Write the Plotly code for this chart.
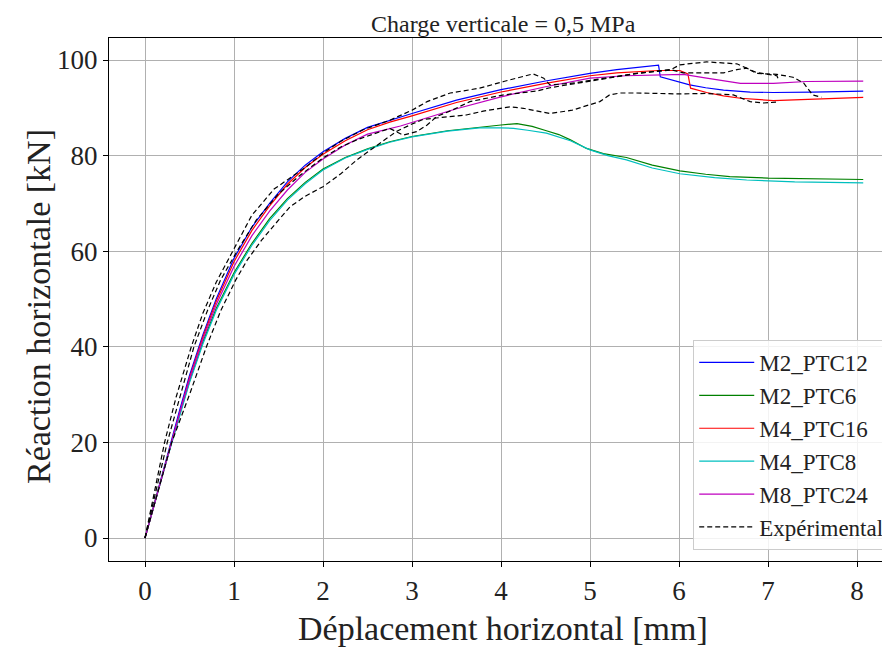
import plotly.graph_objects as go

# ---------------- data ----------------
blue_x = [0, 0.1, 0.25, 0.4, 0.5, 0.65, 0.8, 1.0, 1.2, 1.4, 1.6, 1.8, 2.0, 2.25, 2.5, 2.75, 3.0, 3.5, 4.0, 4.5, 5.0, 5.3, 5.77, 5.79, 5.94, 6.12, 6.3, 6.5, 6.8, 7.06, 7.5, 8.07]
blue_y = [0, 7, 17.5, 27.5, 34, 42.5, 50, 58.5, 65, 70, 74.5, 78, 80.8, 83.6, 85.9, 87.4, 88.8, 91.6, 93.8, 95.6, 97.2, 98.0, 98.9, 96.5, 95.8, 94.8, 94.2, 93.7, 93.3, 93.2, 93.3, 93.5]

green_x = [0, 0.1, 0.25, 0.4, 0.5, 0.65, 0.8, 1.0, 1.2, 1.4, 1.6, 1.8, 2.0, 2.25, 2.5, 2.75, 3.0, 3.4, 3.76, 4.0, 4.18, 4.35, 4.51, 4.65, 4.78, 4.96, 5.15, 5.41, 5.7, 6.01, 6.3, 6.57, 7.0, 7.5, 8.07]
green_y = [0, 6.8, 16.8, 26.5, 32.8, 41, 48, 55.5, 61.6, 66.8, 71, 74.4, 77.2, 79.6, 81.4, 82.9, 84.0, 85.2, 86.0, 86.4, 86.7, 86.1, 85.2, 84.4, 83.3, 81.5, 80.4, 79.6, 78.0, 76.8, 76.1, 75.6, 75.3, 75.1, 75.0]

red_x = [0, 0.1, 0.25, 0.4, 0.5, 0.65, 0.8, 1.0, 1.2, 1.4, 1.6, 1.8, 2.0, 2.25, 2.5, 2.75, 3.0, 3.5, 4.0, 4.5, 5.0, 5.3, 5.77, 6.01, 6.1, 6.13, 6.31, 6.5, 6.69, 7.06, 7.5, 8.07]
red_y = [0, 6.8, 17, 27, 33.5, 42, 49.5, 57.8, 64.3, 69.5, 74, 77.5, 80.3, 83.1, 85.4, 87, 88.3, 91.1, 93.3, 95.1, 96.7, 97.3, 97.8, 97.8, 97.1, 94.1, 93.2, 92.5, 92.0, 91.5, 91.8, 92.2]

cyan_x = [0, 0.1, 0.25, 0.4, 0.5, 0.65, 0.8, 1.0, 1.2, 1.4, 1.6, 1.8, 2.0, 2.25, 2.5, 2.75, 3.0, 3.4, 3.76, 4.0, 4.14, 4.3, 4.51, 4.78, 5.0, 5.2, 5.41, 5.7, 6.01, 6.4, 6.76, 7.3, 8.07]
cyan_y = [0, 6.7, 16.6, 26.2, 32.5, 40.6, 47.6, 55.1, 61.2, 66.4, 70.7, 74.1, 77.0, 79.5, 81.3, 82.8, 83.9, 85.1, 85.8, 85.8, 85.7, 85.3, 84.7, 83.1, 81.2, 80.0, 79.1, 77.4, 76.2, 75.4, 74.9, 74.5, 74.3]

magenta_x = [0, 0.1, 0.25, 0.4, 0.5, 0.65, 0.8, 1.0, 1.2, 1.4, 1.6, 1.8, 2.0, 2.25, 2.5, 2.87, 3.5, 4.0, 4.5, 5.0, 5.4, 5.79, 6.05, 6.31, 6.69, 7.06, 7.43, 8.07]
magenta_y = [0, 6.8, 17, 26.8, 33.2, 41.5, 48.8, 56.8, 63.2, 68.4, 72.8, 76.5, 79.3, 82.2, 84.5, 86.2, 89.8, 92.3, 94.4, 96.2, 96.7, 96.9, 97.0, 96.2, 95.1, 95.1, 95.5, 95.6]

expA_x = [0, 0.1, 0.22, 0.35, 0.52, 0.65, 0.8, 1.0, 1.2, 1.45, 1.6, 1.8, 2.0, 2.2, 2.45, 2.75, 3.0, 3.17, 3.43, 3.76, 4.03, 4.2, 4.36, 4.48, 4.55, 4.78, 5.15, 5.52, 5.9, 6.01, 6.31, 6.65, 6.76, 6.87, 7.1, 7.28, 7.4, 7.5, 7.6]
expA_y = [0, 9, 20, 29.5, 40, 47, 53.5, 60.5, 67.5, 73, 75, 77.5, 80.5, 83, 85.4, 87.4, 89.5, 91.3, 93.1, 94.1, 95.5, 96.4, 97.1, 96.2, 94.8, 95.1, 96.2, 97.2, 97.9, 99.0, 99.6, 99.2, 98.3, 97.2, 97.0, 96.4, 95.2, 92.7, 92.2]

expB_x = [0, 0.1, 0.3, 0.5, 0.69, 0.85, 1.02, 1.15, 1.31, 1.5, 1.63, 1.8, 2.0, 2.2, 2.38, 2.64, 2.83, 3.0, 3.13, 3.4, 3.61, 3.8, 4.1, 4.25, 4.55, 4.8, 5.0, 5.11, 5.22, 5.34, 5.52, 6.01, 6.3, 6.61, 6.8, 6.95, 7.1]
expB_y = [0, 6.5, 20, 30, 40, 47.5, 54, 58.2, 62.3, 66.5, 69.3, 71.5, 73.5, 76.2, 79.1, 82.6, 85.1, 86.6, 87.6, 88.1, 88.5, 89.3, 90.2, 89.9, 88.8, 89.5, 90.7, 91.3, 92.7, 93.1, 93.1, 92.9, 93.0, 92.7, 91.3, 91.0, 91.2]

expD_x = [0, 0.1, 0.25, 0.4, 0.55, 0.7, 0.85, 1.05, 1.25, 1.5, 1.75, 2.0, 2.2, 2.38, 2.6, 2.75, 2.9, 3.05, 3.17, 3.28, 3.45, 3.65, 4.03, 4.4, 4.55, 5.0, 5.5, 5.9, 6.05, 6.5, 6.65, 6.76, 6.87, 7.0, 7.1, 7.12]
expD_y = [0, 8, 20, 30, 40, 47.5, 54, 60.5, 66.5, 72, 76, 79.5, 81.8, 83.3, 84.8, 85.7, 84.3, 85.0, 86.4, 88.2, 89.5, 91.3, 92.7, 93.5, 94.2, 95.6, 97.1, 98.0, 97.3, 97.3, 98.0, 98.3, 97.4, 97.0, 96.7, 95.8]

model_names = ["M2_PTC12", "M2_PTC6", "M4_PTC16", "M4_PTC8", "M8_PTC24"]
exp_name = "Expérimental"
x_ticks = [0, 1, 2, 3, 4, 5, 6, 7, 8]
y_ticks = [0, 20, 40, 60, 80, 100]

# ---------------- figure ----------------
FONT = "Liberation Serif"
fig = go.Figure()

models = [
    (blue_x, blue_y, "#0000ff"),
    (green_x, green_y, "#008000"),
    (red_x, red_y, "#ff0000"),
    (cyan_x, cyan_y, "#00bfbf"),
    (magenta_x, magenta_y, "#bf00bf"),
]
for i, (xs, ys, col) in enumerate(models):
    fig.add_trace(go.Scatter(x=xs, y=ys, mode="lines", name=model_names[i],
                             line=dict(color=col, width=1.2),
                             legendgroup=f"g{i}"))

for j, (xs, ys) in enumerate([(expA_x, expA_y), (expD_x, expD_y), (expB_x, expB_y)]):
    fig.add_trace(go.Scatter(x=xs, y=ys, mode="lines", name=exp_name,
                             line=dict(color="black", width=1.2, dash="5px,3px"),
                             showlegend=(j == 0), legendgroup="exp"))

axis_common = dict(showline=True, linecolor="black", linewidth=1.2,
                   ticks="outside", ticklen=5, tickcolor="black", tickwidth=1.2,
                   showgrid=True, gridcolor="#b0b0b0", gridwidth=1,
                   zeroline=False, automargin=False,
                   tickfont=dict(family=FONT, size=27, color="#222"))

fig.update_xaxes(range=[-36/89, 745/89], tickvals=x_ticks, mirror=True, **axis_common)
fig.update_yaxes(range=[-23/4.78, 500/4.78], tickvals=y_ticks, mirror=False, **axis_common)

# the page places the figure at an 8px offset, so the figure is 8px smaller
fig.update_layout(
    width=882, height=640,
    margin=dict(l=101, r=0, t=30, b=87, autoexpand=False),
    plot_bgcolor="white", paper_bgcolor="white",
    font=dict(family=FONT, color="#222"),
    showlegend=True,
    legend=dict(x=0.999, xanchor="right", y=0.021, yanchor="bottom",
                bgcolor="rgba(255,255,255,0.85)", bordercolor="#cccccc", borderwidth=1,
                font=dict(family=FONT, size=23, color="#222"),
                itemwidth=55, tracegroupgap=0, traceorder="grouped"),
    annotations=[
        dict(text="Charge verticale = 0,5 MPa", xref="paper", yref="paper",
             x=(504 - 109) / 781, y=1 + 14 / 523, xanchor="center", yanchor="middle",
             showarrow=False, font=dict(family=FONT, size=24, color="#222")),
        dict(text="Déplacement horizontal [mm]", xref="paper", yref="paper",
             x=(503 - 109) / 781, y=-(628 - 561) / 523, xanchor="center", yanchor="middle",
             showarrow=False, font=dict(family=FONT, size=34, color="#222")),
        dict(text="Réaction horizontale [kN]", xref="paper", yref="paper",
             x=-(109 - 38) / 781, y=(561 - 307) / 523, xanchor="center", yanchor="middle",
             textangle=-90, showarrow=False, font=dict(family=FONT, size=34, color="#222")),
    ],
)

fig.write_html("out.html")
